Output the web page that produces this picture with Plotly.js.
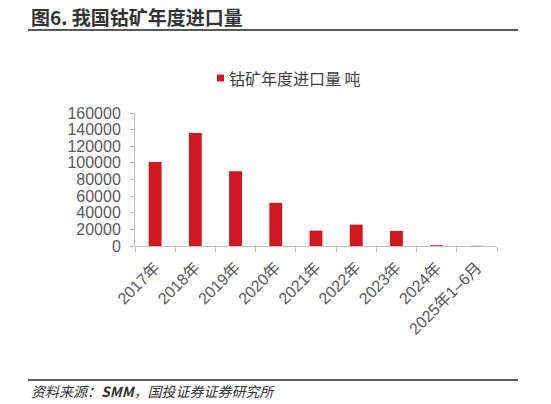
<!DOCTYPE html>
<html>
<head>
<meta charset="utf-8">
<script src="https://cdn.plot.ly/plotly-3.0.1.min.js"></script>
<style>
  body { margin: 0; background: #fff; }
  #plot { width: 551px; height: 404px; }
</style>
</head>
<body>
<div id="plot"></div>
<script>
// years / periods on the x axis
var categories = ['2017年', '2018年', '2019年', '2020年', '2021年', '2022年', '2023年', '2024年', '2025年1–6月'];
// cobalt ore imports, tonnes
var imports = [101000, 136000, 90000, 52000, 18500, 25700, 18100, 900, 300];
var yTicks = [0, 20000, 40000, 60000, 80000, 100000, 120000, 140000, 160000];

var seriesName = '钴矿年度进口量 吨';
var titleText = '图6. 我国钴矿年度进口量';
var sourceText = '资料来源：<b>SMM</b>，国投证券证券研究所';

var barColor = '#D1171F';
var cjk = '"Liberation Sans", "Noto Sans CJK SC", sans-serif';

// plot area in pixels, used to place the decorations outside it
var L = 135, R = 497, T = 113, B = 246;
function px(x) { return (x - L) / (R - L); }
function py(y) { return (B - y) / (B - T); }

var data = [{
    type: 'bar',
    x: categories,
    y: imports,
    name: seriesName,
    marker: { color: barColor },
    hoverinfo: 'x+y'
}];

var layout = {
    width: 551,
    height: 404,
    margin: { l: L, r: 551 - R, t: T, b: 404 - B, pad: 0 },
    paper_bgcolor: '#fff',
    plot_bgcolor: '#fff',
    showlegend: false,
    bargap: 0.68,
    font: { family: cjk, color: '#595959', size: 16 },
    xaxis: {
        type: 'category',
        showline: true,
        linecolor: '#bfbfbf',
        linewidth: 1,
        ticks: 'outside',
        tickson: 'boundaries',
        ticklen: 5,
        tickcolor: '#bfbfbf',
        tickangle: -45,
        ticklabelstandoff: 5,
        showgrid: false,
        zeroline: false,
        tickfont: { size: 16, color: '#595959', family: cjk }
    },
    yaxis: {
        range: [0, 160000],
        tickvals: yTicks,
        ticktext: yTicks.map(String),
        showline: true,
        linecolor: '#bfbfbf',
        linewidth: 1,
        ticks: 'outside',
        ticklen: 4,
        tickcolor: '#bfbfbf',
        ticklabelstandoff: 6,
        showgrid: false,
        zeroline: false,
        tickfont: { size: 16, color: '#595959', family: cjk }
    },
    shapes: [
        // rule under the figure title
        { type: 'line', xref: 'paper', yref: 'paper',
          x0: px(28), x1: px(518), y0: py(30), y1: py(30),
          line: { color: '#222', width: 1.5 } },
        // rule above the source note
        { type: 'line', xref: 'paper', yref: 'paper',
          x0: px(28), x1: px(518), y0: py(380), y1: py(380),
          line: { color: '#222', width: 1.5 } },
        // legend swatch
        { type: 'rect', xref: 'paper', yref: 'paper',
          x0: px(217), x1: px(224), y0: py(81.5), y1: py(74.5),
          fillcolor: barColor, line: { width: 0 } }
    ],
    annotations: [
        { text: '<b>' + titleText + '</b>', xref: 'paper', yref: 'paper',
          x: px(29), y: py(16), xanchor: 'left', yanchor: 'middle', showarrow: false,
          font: { family: '"Noto Sans CJK SC", sans-serif', size: 19, color: '#333' } },
        { text: seriesName, xref: 'paper', yref: 'paper',
          x: px(227), y: py(78), xanchor: 'left', yanchor: 'middle', showarrow: false,
          font: { family: '"Noto Sans CJK SC", sans-serif', size: 16, color: '#404040' } },
        { text: '<i>' + sourceText + '</i>', xref: 'paper', yref: 'paper',
          x: px(29), y: py(391), xanchor: 'left', yanchor: 'middle', showarrow: false,
          font: { family: '"Noto Sans CJK SC", sans-serif', size: 14, color: '#333' } }
    ]
};

Plotly.newPlot(document.getElementById('plot'), data, layout, { staticPlot: true });
</script>
</body>
</html>
